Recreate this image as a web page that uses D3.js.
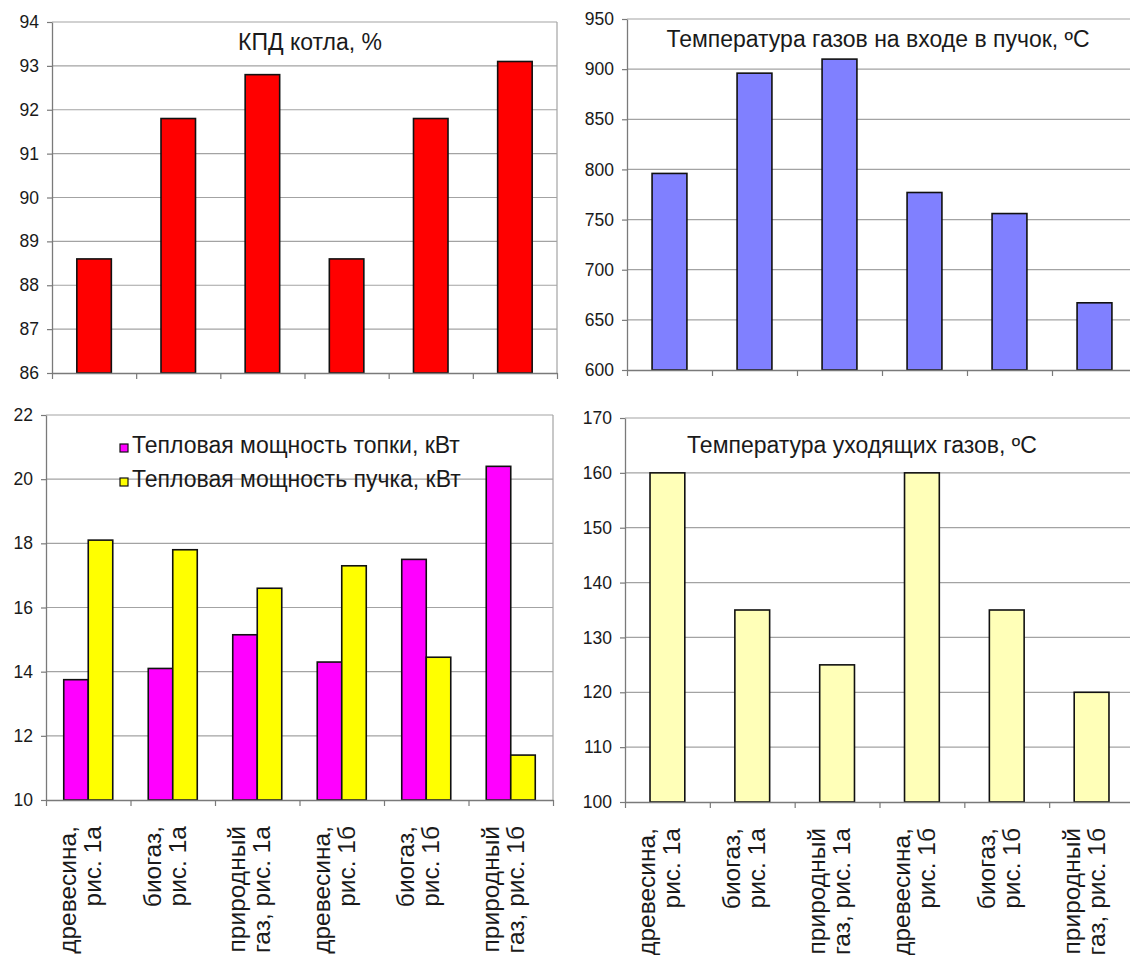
<!DOCTYPE html>
<html>
<head>
<meta charset="utf-8">
<script src="https://cdn.jsdelivr.net/npm/d3@7"></script>
<style>
  html, body { margin: 0; padding: 0; background: #fff; }
  svg { display: block; font-family: "Liberation Sans", Arial, sans-serif; }
</style>
</head>
<body>
<svg id="chart" width="1130" height="955"></svg>
<script>
// ---- data ----
const categories = [
  ["древесина,", "рис. 1а"],
  ["биогаз,", "рис. 1а"],
  ["природный", "газ, рис. 1а"],
  ["древесина,", "рис. 1б"],
  ["биогаз,", "рис. 1б"],
  ["природный", "газ, рис. 1б"]
];
const efficiency = [88.6, 91.8, 92.8, 88.6, 91.8, 93.1];
const inletTemp = [796, 896, 910, 777, 756, 667];
const furnacePower = [13.75, 14.1, 15.15, 14.3, 17.5, 20.4];
const bundlePower = [18.1, 17.8, 16.6, 17.3, 14.45, 11.4];
const exhaustTemp = [160, 135, 125, 160, 135, 120];

const effTicks = [86, 87, 88, 89, 90, 91, 92, 93, 94];
const inletTicks = [600, 650, 700, 750, 800, 850, 900, 950];
const powerTicks = [10, 12, 14, 16, 18, 20, 22];
const exhaustTicks = [100, 110, 120, 130, 140, 150, 160, 170];

const titleEff = "КПД котла, %";
const titleInlet = "Температура газов на входе в пучок, ºC";
const titleExhaust = "Температура уходящих газов, ºC";
const legendNames = ["Тепловая мощность топки, кВт", "Тепловая мощность пучка, кВт"];

// ---- drawing ----
const svg = d3.select("#chart");
svg.append("rect").attr("width", 1130).attr("height", 955).attr("fill", "#fff");

const GRID = "#a3a3a3", AXIS = "#7a7a7a", TXT = "#1a1a1a";

function panel(cfg) {
  const g = svg.append("g");
  const y = d3.scaleLinear().domain(cfg.domain).range([cfg.bottom, cfg.top]);
  const xl = d3.scaleLinear().domain([0, categories.length]).range([cfg.left, cfg.right]);
  const x = d3.scaleBand().domain(d3.range(categories.length))
    .range([cfg.left, cfg.right]).paddingInner(cfg.pad).paddingOuter(cfg.pad / 2);

  // gridlines
  g.append("g").selectAll("line").data(cfg.ticks.slice(1)).join("line")
    .attr("x1", cfg.left).attr("x2", cfg.right)
    .attr("y1", d => y(d)).attr("y2", d => y(d))
    .attr("stroke", GRID).attr("stroke-width", 1.2);
  if (cfg.rightBorder) {
    g.append("line").attr("x1", cfg.right).attr("x2", cfg.right)
      .attr("y1", cfg.top).attr("y2", cfg.bottom)
      .attr("stroke", GRID).attr("stroke-width", 1.2);
  }

  // bars
  if (cfg.series.length === 1) {
    g.append("g").selectAll("rect").data(cfg.series[0].values).join("rect")
      .attr("x", (d, i) => x(i)).attr("width", x.bandwidth())
      .attr("y", d => y(d)).attr("height", d => y(cfg.domain[0]) - y(d))
      .attr("fill", cfg.series[0].color).attr("stroke", "#111").attr("stroke-width", 1.6);
  } else {
    const x1 = d3.scaleBand().domain(d3.range(cfg.series.length)).range([0, x.bandwidth()]);
    cfg.series.forEach((s, si) => {
      g.append("g").selectAll("rect").data(s.values).join("rect")
        .attr("x", (d, i) => x(i) + x1(si)).attr("width", x1.bandwidth())
        .attr("y", d => y(d)).attr("height", d => y(cfg.domain[0]) - y(d))
        .attr("fill", s.color).attr("stroke", "#111").attr("stroke-width", 1.6);
    });
  }

  // y axis
  const ya = g.append("g").attr("transform", `translate(${cfg.left},0)`)
    .call(d3.axisLeft(y).tickValues(cfg.ticks).tickSize(5).tickPadding(8).tickSizeOuter(0));
  ya.select(".domain").attr("stroke", AXIS).attr("stroke-width", 1.3);
  ya.selectAll(".tick line").attr("stroke", AXIS).attr("stroke-width", 1.2);
  ya.selectAll(".tick text").attr("font-size", 17.5).attr("fill", TXT)
    .attr("font-family", "Liberation Sans, Arial, sans-serif");

  // x axis
  const xa = g.append("g").attr("transform", `translate(0,${cfg.bottom})`)
    .call(d3.axisBottom(xl).tickValues(d3.range(categories.length + 1)).tickSize(6).tickFormat("").tickSizeOuter(0));
  xa.select(".domain").attr("stroke", AXIS).attr("stroke-width", 1.3);
  xa.selectAll(".tick line").attr("stroke", AXIS).attr("stroke-width", 1.2);

  // category labels (rotated, two lines) only on bottom panels
  if (cfg.labels) {
    const lab = g.append("g").selectAll("text").data(categories).join("text")
      .attr("transform", (d, i) => `translate(${x(i) + x.bandwidth() / 2},${cfg.bottom + 26}) rotate(-90)`)
      .attr("text-anchor", "end").attr("font-size", 24.5).attr("fill", TXT);
    lab.selectAll("tspan").data(d => d).join("tspan")
      .attr("x", 0).attr("y", (d, j) => j === 0 ? -12 : 13).text(d => d);
  }

  if (cfg.title) {
    g.append("text").attr("x", cfg.title.x).attr("y", cfg.title.y)
      .attr("text-anchor", "middle").attr("font-size", 23).attr("fill", TXT).text(cfg.title.text);
  }
  return g;
}

panel({ left: 52, right: 557, top: 22, bottom: 373, domain: [86, 94], ticks: effTicks, pad: 0.59,
  rightBorder: true, labels: false, series: [{ values: efficiency, color: "#ff0000" }],
  title: { text: titleEff, x: 310, y: 50 } });

panel({ left: 627, right: 1137, top: 19, bottom: 370, domain: [600, 950], ticks: inletTicks, pad: 0.59,
  rightBorder: true, labels: false, series: [{ values: inletTemp, color: "#8080ff" }],
  title: { text: titleInlet, x: 878, y: 47 } });

panel({ left: 46, right: 553, top: 415, bottom: 800, domain: [10, 22], ticks: powerTicks, pad: 0.42,
  rightBorder: true, labels: true, series: [{ values: furnacePower, color: "#ff00ff" }, { values: bundlePower, color: "#ffff00" }] });

panel({ left: 625, right: 1134, top: 418, bottom: 802, domain: [100, 170], ticks: exhaustTicks, pad: 0.59,
  rightBorder: true, labels: true, series: [{ values: exhaustTemp, color: "#ffffb8" }],
  title: { text: titleExhaust, x: 862, y: 453 } });

// legend for the power panel
const legendColors = ["#ff00ff", "#ffff00"];
const leg = svg.append("g");
legendNames.forEach((name, i) => {
  leg.append("rect").attr("x", 120).attr("y", 444 + i * 34).attr("width", 8).attr("height", 8)
    .attr("fill", legendColors[i]).attr("stroke", "#111").attr("stroke-width", 1.2);
  leg.append("text").attr("x", 132).attr("y", 453 + i * 34).attr("font-size", 23).attr("fill", TXT).text(name);
});
</script>
</body>
</html>
